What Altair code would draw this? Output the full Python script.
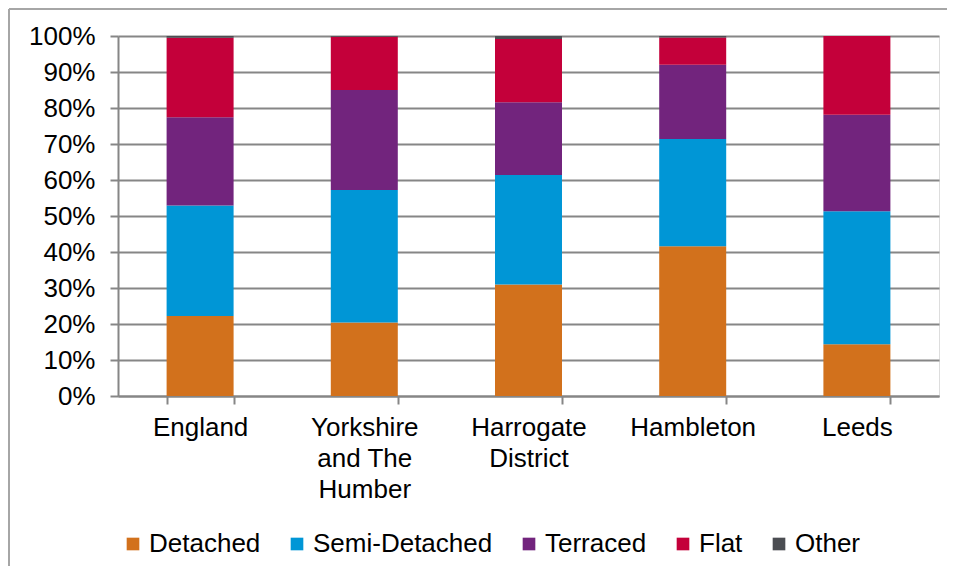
import altair as alt
import pandas as pd

categories = ["England", "Yorkshire and The Humber", "Harrogate District", "Hambleton", "Leeds"]
types = ["Detached", "Semi-Detached", "Terraced", "Flat", "Other"]
detached = [22.2, 20.4, 31.0, 41.6, 14.4]
semi = [30.7, 36.8, 30.4, 29.8, 36.9]
terraced = [24.5, 27.8, 20.2, 20.6, 26.8]
flat = [22.1, 14.8, 17.6, 7.6, 21.9]
other = [0.5, 0.2, 0.8, 0.4, 0.0]
colors = ["#D2711C", "#0096D6", "#72247D", "#C4003A", "#4B4D52"]
y_ticks = list(range(0, 101, 10))

series = [detached, semi, terraced, flat, other]
rows = []
for ti, (t, vals) in enumerate(zip(types, series)):
    for c, v in zip(categories, vals):
        rows.append({"category": c, "type": t, "value": v, "idx": ti})
df = pd.DataFrame(rows)

W, H = 821, 360
FONT = "Liberation Sans"

label_expr = ("datum.value == 'Yorkshire and The Humber' ? ['Yorkshire', 'and The', 'Humber'] : "
              "datum.value == 'Harrogate District' ? ['Harrogate', 'District'] : datum.label")

bars = alt.Chart(df).mark_bar().encode(
    x=alt.X("category:N", sort=categories,
            scale=alt.Scale(paddingInner=0.592, paddingOuter=0.296),
            axis=alt.Axis(title=None, labelAngle=0, labelFontSize=26, labelFont=FONT,
                          labelColor="#000000", labelLineHeight=31, labelPadding=10,
                          labelExpr=label_expr, tickBand="extent", tickSize=8,
                          tickColor="#868686", tickWidth=2, domainColor="#868686",
                          domainWidth=2, grid=False, labelBaseline="top")),
    y=alt.Y("value:Q", stack="zero",
            scale=alt.Scale(domain=[0, 100], nice=False),
            axis=alt.Axis(title=None, values=y_ticks, labelExpr="datum.value + '%'",
                          labelFontSize=26, labelFont=FONT, labelColor="#000000",
                          labelPadding=15, tickSize=8, tickColor="#868686", tickWidth=2,
                          domainColor="#868686", domainWidth=2, grid=True,
                          gridColor="#868686", gridWidth=2)),
    color=alt.Color("type:N", sort=types,
                    scale=alt.Scale(domain=types, range=colors),
                    legend=alt.Legend(title=None, orient="none", direction="horizontal",
                                      legendX=2, legendY=495, labelFontSize=26,
                                      labelFont=FONT, labelColor="#000000",
                                      symbolType="square", symbolSize=160,
                                      symbolStrokeWidth=0, labelOffset=3,
                                      columnPadding=23, padding=0, labelLimit=400)),
    order=alt.Order("idx:Q", sort="ascending"),
)

frame_df = pd.DataFrame({"a": [0]})
left_border = alt.Chart(frame_df).mark_rule(color="#a6a6a6", strokeWidth=2).encode(
    x=alt.value(-109), y=alt.value(-27), y2=alt.value(H + 170))
top_border = alt.Chart(frame_df).mark_rule(color="#a6a6a6", strokeWidth=2).encode(
    x=alt.value(-109), x2=alt.value(W + 8), y=alt.value(-27))

chart = alt.layer(bars, left_border, top_border).properties(
    width=W, height=H,
    autosize=alt.AutoSizeParams(type="none"),
    padding={"left": 110, "top": 28, "right": 8, "bottom": 170},
).configure_view(stroke=None).configure(background="white")

chart.save("out.html", embed_options={"renderer": "svg", "actions": False})
